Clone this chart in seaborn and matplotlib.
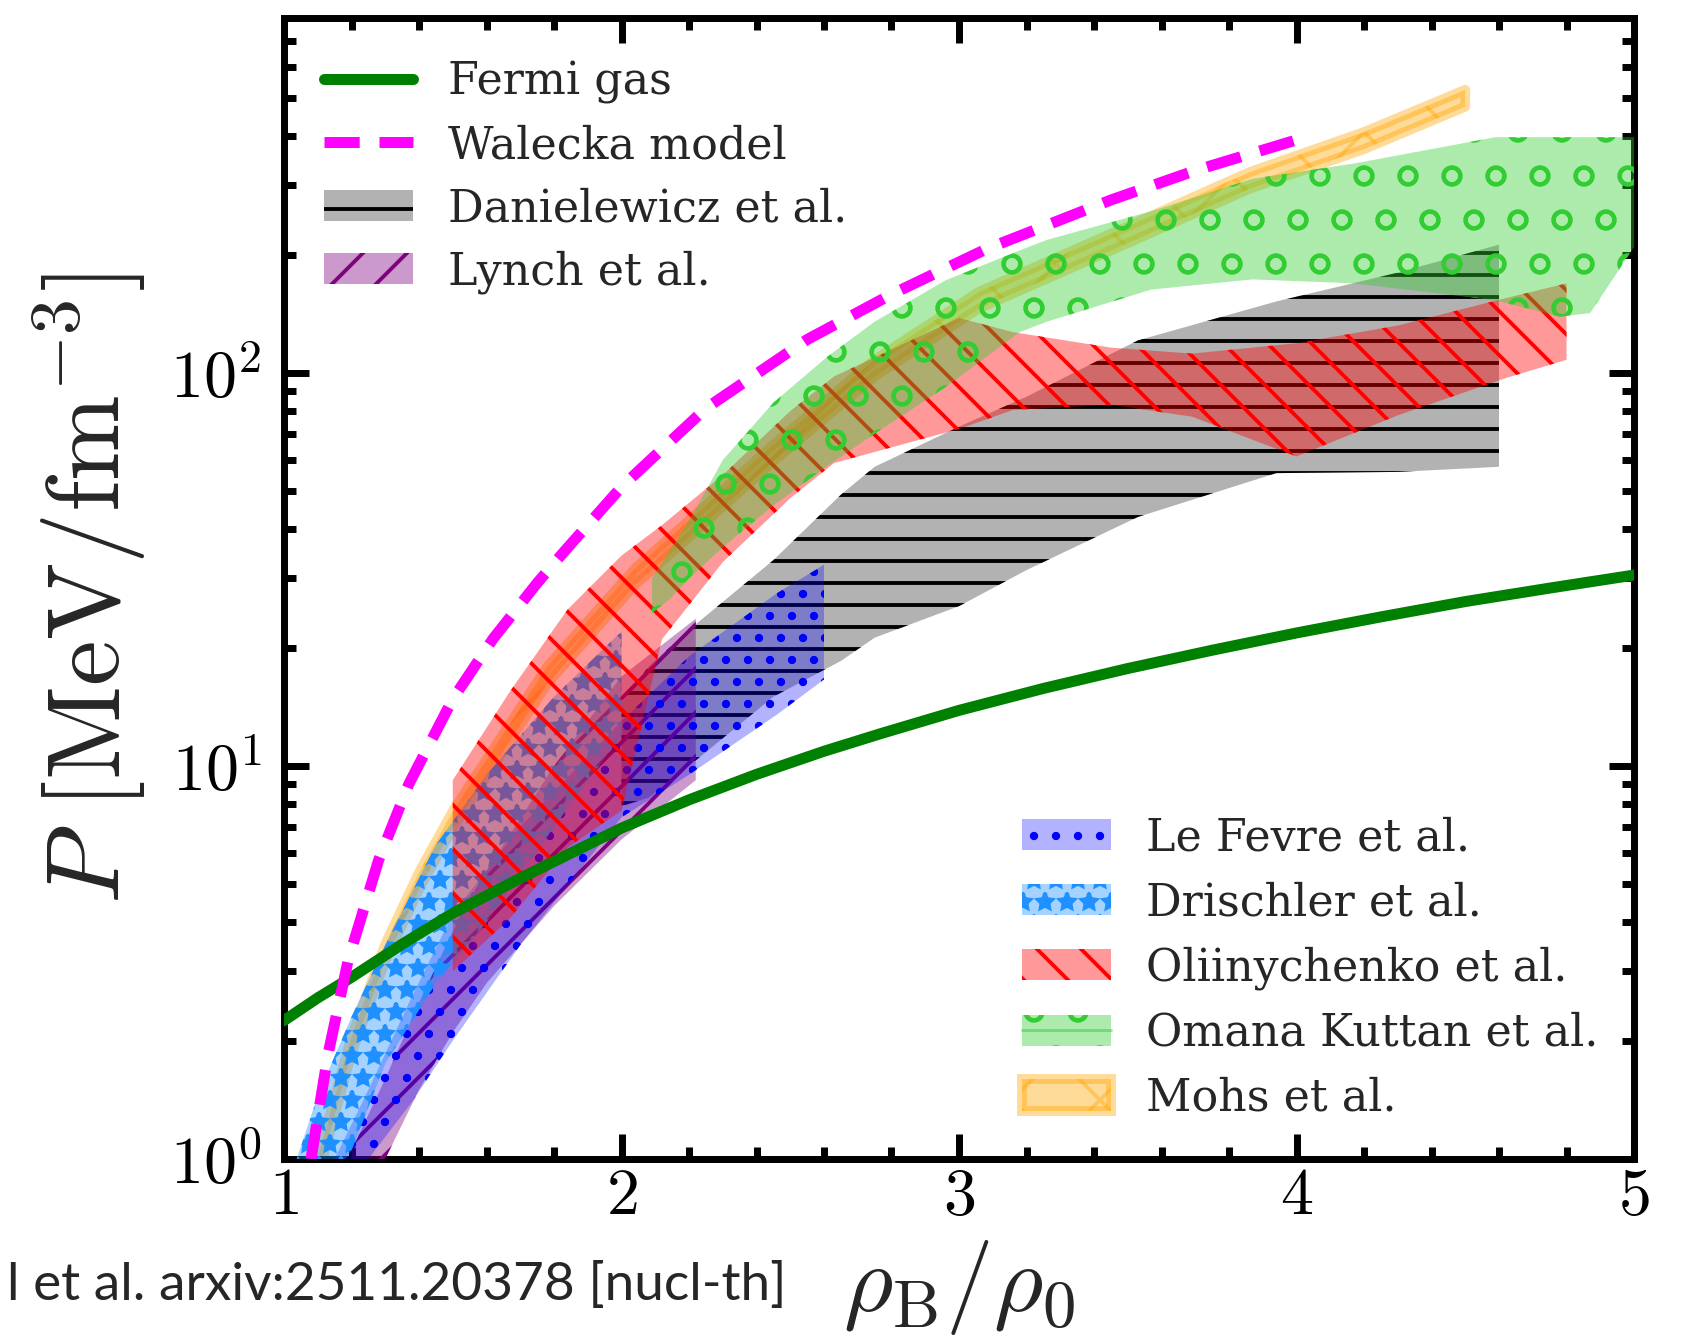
import numpy as np
import matplotlib
matplotlib.use("Agg")
import matplotlib.pyplot as plt
from matplotlib.colors import to_rgb
from matplotlib.lines import Line2D
from matplotlib.ticker import MultipleLocator, LogLocator, FuncFormatter, NullFormatter
import seaborn as sns

# ---------------- data ----------------
# Fermi gas pressure
fermi_rho = [1.0, 1.1, 1.2, 1.35, 1.5, 1.7, 1.87, 2.0, 2.2, 2.4, 2.6, 2.77, 3.0, 3.25,
             3.5, 3.75, 4.0, 4.25, 4.5, 4.75, 5.0]
fermi_p = [2.25, 2.57, 2.9, 3.52, 4.22, 5.18, 6.12, 6.95, 8.2, 9.52, 10.9, 12.1, 13.85, 15.75,
           17.7, 19.7, 21.8, 23.95, 26.2, 28.35, 30.6]

# Walecka model
walecka_rho = [1.08, 1.13, 1.19, 1.28, 1.37, 1.5, 1.62, 1.75, 1.83, 2.0, 2.25, 2.55, 2.8,
               3.08, 3.45, 3.7, 4.0]
walecka_p = [1.0, 1.84, 3.2, 5.75, 9.0, 14.8, 21.1, 29.2, 35.1, 51.3, 81.3, 121.6, 158.5,
             206.5, 275.4, 327.3, 391.7]

# Danielewicz et al.
dan_rho = [2.0, 2.08, 2.2, 2.45, 2.65, 2.75, 3.0, 3.2, 3.53, 3.94, 4.3, 4.6]
dan_lo = [7.9, 8.3, 10.0, 15.0, 18.5, 21.2, 25.5, 31.5, 43.0, 55.6, 56.0, 57.7]
dan_hi = [14.5, 17.9, 22.2, 33.4, 49.0, 57.7, 73.0, 87.0, 121.0, 152.0, 180.0, 212.0]

# Lynch et al.
lyn_rho = [1.2, 1.3, 1.4, 1.5, 1.6, 1.8, 2.0, 2.22]
lyn_lo = [0.7, 1.0, 1.5, 2.1, 2.8, 4.4, 6.5, 9.2]
lyn_hi = [1.05, 1.6, 2.5, 3.8, 5.4, 10.0, 16.9, 23.7]

# Le Fevre et al.
lef_rho = [1.15, 1.25, 1.38, 1.5, 1.7, 2.0, 2.2, 2.46, 2.6]
lef_lo = [0.7, 1.0, 1.4, 2.0, 3.5, 7.4, 9.5, 13.5, 16.6]
lef_hi = [1.0, 1.5, 2.6, 4.2, 7.0, 13.0, 19.0, 27.5, 32.5]

# Drischler et al.
dri_rho = [1.0, 1.1, 1.2, 1.3, 1.45, 1.6, 1.8, 2.0]
dri_lo = [0.55, 0.8, 1.05, 1.75, 2.8, 4.0, 7.0, 12.0]
dri_hi = [0.8, 1.45, 2.3, 3.5, 6.3, 9.5, 15.0, 22.0]

# Oliinychenko et al.
oli_rho = [1.5, 1.67, 1.84, 2.0, 2.12, 2.3, 2.5, 2.63, 3.0, 3.16, 3.45, 3.69, 4.0, 4.3, 4.62, 4.8]
oli_lo = [3.0, 4.1, 6.2, 7.7, 21.0, 33.0, 48.0, 59.0, 72.0, 80.5, 83.0, 77.4, 61.3, 78.0, 97.0, 108.0]
oli_hi = [9.2, 15.5, 25.0, 34.3, 41.0, 55.0, 80.0, 98.0, 138.0, 127.0, 116.0, 112.0, 119.0, 132.0, 155.0, 169.0]

# Omana Kuttan et al.
omk_rho = [2.09, 2.14, 2.2, 2.3, 2.45, 2.61, 2.75, 2.96, 3.18, 3.26, 3.57, 3.87, 4.17, 4.59,
           4.78, 4.87, 4.95, 5.0]
omk_lo = [24.5, 26.4, 30.0, 36.0, 46.0, 58.0, 70.0, 92.0, 127.0, 135.0, 163.0, 173.0, 169.0,
          153.0, 139.0, 142.0, 180.0, 209.0]
omk_hi = [30.0, 35.0, 42.0, 60.0, 84.0, 110.0, 135.0, 172.0, 205.0, 218.0, 258.0, 312.0, 341.0,
          398.0, 398.0, 398.0, 398.0, 398.0]

# Mohs et al.
mohs_rho = [1.10, 1.2, 1.3, 1.4, 1.5, 1.78, 2.04, 2.24, 2.45, 2.75, 3.06, 3.5, 3.86, 4.2, 4.5]
mohs_lo = [0.90, 1.86, 3.19, 4.86, 6.95, 16.2, 28.9, 41.0, 59.6, 98.0, 146.0, 214.0, 294.0, 371.0, 476.0]
mohs_hi = [1.00, 2.05, 3.52, 5.36, 7.67, 17.9, 31.8, 45.2, 65.7, 108.0, 161.0, 236.0, 324.0, 410.0, 525.0]

# ---------------- style ----------------
sns.set_style("ticks")
plt.rcParams.update({
    "font.family": ["DejaVu Serif"],
    "mathtext.fontset": "cm",
    "hatch.linewidth": 1.05,
    "axes.linewidth": 1.9,
})

DPI = 264
fig = plt.figure(figsize=(1686 / DPI, 1337 / DPI), dpi=DPI)
ax = fig.add_axes([284 / 1686, 1 - 1159 / 1337, 1350 / 1686, 1141 / 1337])
ax.set_yscale("log")


def band(x, lo, hi, color, alpha, hatch, z, label, hatch_color=None):
    rgb = to_rgb(color)
    hc = to_rgb(hatch_color) if hatch_color else rgb
    return ax.fill_between(x, lo, hi, facecolor=(*rgb, alpha), edgecolor=(*hc, 1.0),
                           hatch=hatch, linewidth=0, zorder=z, label=label)


mohs = ax.fill_between(mohs_rho, mohs_lo, mohs_hi, facecolor=(*to_rgb("orange"), 0.4),
                       edgecolor=(*to_rgb("orange"), 0.4), hatch="x", linewidth=2.7,
                       joinstyle="round", zorder=1, label="Mohs et al.")
dan = band(dan_rho, dan_lo, dan_hi, "gray", 0.6, "--", 2, "Danielewicz et al.", "black")
lyn = band(lyn_rho, lyn_lo, lyn_hi, "purple", 0.4, "//", 3, "Lynch et al.")
lef = band(lef_rho, lef_lo, lef_hi, "blue", 0.3, "..", 4, "Le Fevre et al.")
dri = band(dri_rho, dri_lo, dri_hi, "dodgerblue", 0.4, "**", 5, "Drischler et al.")
oli = band(oli_rho, oli_lo, oli_hi, "red", 0.4, "\\\\", 6, "Oliinychenko et al.")
omk = band(omk_rho, omk_lo, omk_hi, "limegreen", 0.4, "o", 7, "Omana Kuttan et al.")

sns.lineplot(x=fermi_rho, y=fermi_p, ax=ax, color="green", lw=3.0, zorder=10,
             label="Fermi gas", legend=False)
sns.lineplot(x=walecka_rho, y=walecka_p, ax=ax, color="magenta", lw=3.0, zorder=10,
             linestyle=(0, (3.2, 1.8)), label="Walecka model", legend=False)
fermi_line, walecka_line = ax.lines[0], ax.lines[1]

ax.set_xlim(1, 5)
ax.set_ylim(1, 800)

ax.xaxis.set_major_locator(MultipleLocator(1))
ax.xaxis.set_minor_locator(MultipleLocator(0.2))
ax.xaxis.set_major_formatter(FuncFormatter(lambda v, p: rf"${v:.0f}$"))
ax.yaxis.set_major_locator(LogLocator(base=10, numticks=10))
ax.yaxis.set_minor_locator(LogLocator(base=10, subs=np.arange(2, 10), numticks=20))
ax.yaxis.set_major_formatter(FuncFormatter(lambda v, p: rf"$10^{{{int(round(np.log10(v)))}}}$"))
ax.yaxis.set_minor_formatter(NullFormatter())

ax.tick_params(which="both", direction="in", top=True, right=True, width=1.9,
               labelsize=18, colors="black")
ax.tick_params(which="major", length=6.8)
ax.tick_params(which="minor", length=3.3)
ax.tick_params(axis="y", pad=6)
ax.tick_params(axis="x", pad=1.5)
for s in ax.spines.values():
    s.set_color("black")
    s.set_linewidth(1.9)

ax.set_xlabel(r"$\rho_{\mathrm{B}}/\rho_0$", fontsize=26, labelpad=2.5)
ax.set_ylabel(r"$P~[\mathrm{MeV/fm^{-3}}]$", fontsize=28, labelpad=6.0)

leg_kw = dict(borderaxespad=0, borderpad=0, frameon=False, fontsize=12.1,
              handlelength=2.0, handletextpad=0.8)
leg1 = ax.legend(handles=[fermi_line, walecka_line, dan, lyn], labelspacing=0.45,
                 loc="upper left", bbox_to_anchor=(0.0296, 0.963), **leg_kw)
ax.add_artist(leg1)
omk_line = Line2D([], [], color="limegreen", lw=0.8, alpha=0.5)
ax.legend(handles=[lef, dri, oli, (omk, omk_line), mohs],
          labels=["Le Fevre et al.", "Drischler et al.", "Oliinychenko et al.",
                  "Omana Kuttan et al.", "Mohs et al."], labelspacing=0.49,
          loc="lower left", bbox_to_anchor=(0.5467, 0.0346), **leg_kw)

fig.text(7 / 1686, 1 - 1300 / 1337, "l et al. arxiv:2511.20378 [nucl-th]",
         family="Lato", fontsize=14.5, va="baseline", ha="left")

fig.savefig("out.png", dpi=DPI)
